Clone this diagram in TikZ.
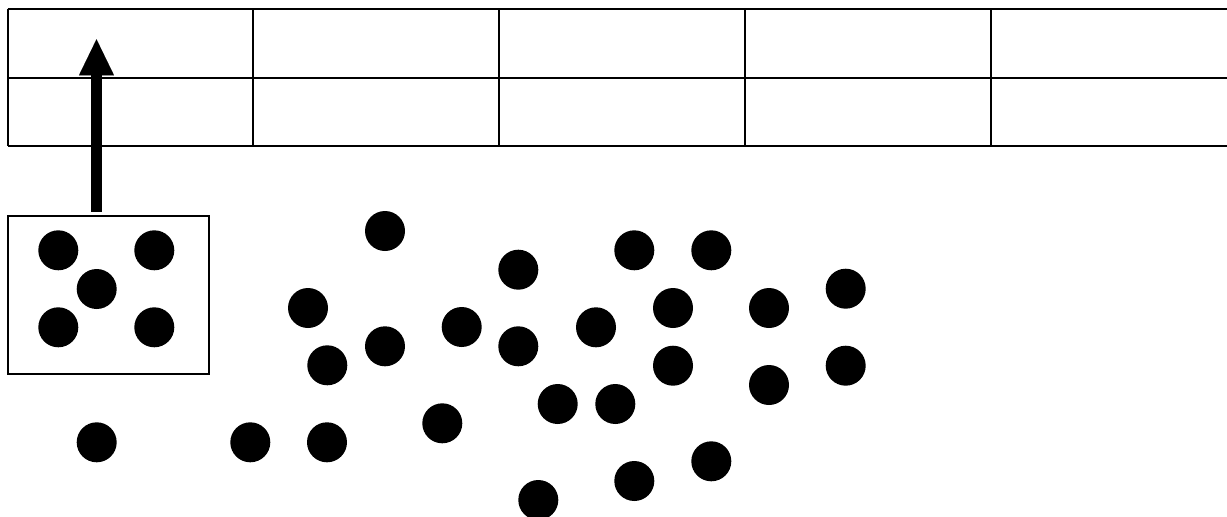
\documentclass[tikz,border=0pt]{standalone}
\usetikzlibrary{arrows.meta}

\tikzset{
  dot/.style={circle, fill=black, inner sep=0pt, minimum size=40pt},
  grp/.style={draw, line width=2pt, outer sep=0pt, minimum width=201.5pt, minimum height=158pt},
  bigarrow/.style={line width=11.5pt, -{Triangle[width=35pt, length=36pt, line width=0.01pt]}}
}

\begin{document}
\begin{tikzpicture}[x=1pt, y=-1pt]
                \useasboundingbox (0,0) rectangle (1227,517);

                % table with two rows
                \draw[line width=2pt] (7.5,8.5) -- (1228,8.5);
                \draw[line width=2pt] (7.5,77.5) -- (1228,77.5);
                \draw[line width=2pt] (7.5,146) -- (1228,146);
                \foreach \x in {7.5, 252.7, 499, 745, 990.7}
                    \draw[line width=2pt] (\x,8.5) -- (\x,146);

                % the group of five in a box
                \node[grp] (group) at (108.25,294.6) {};
                \node[dot] (g1) at (58.3,250.3) {};
                \node[dot] (g2) at (154.3,250.3) {};
                \node[dot] (g3) at (96.7,289) {};
                \node[dot] (g4) at (58.3,327.3) {};
                \node[dot] (g5) at (154.3,327.3) {};

                % arrow up into the table
                \coordinate (tip) at (96.5,39.3);
                \draw[bigarrow] ([yshift=3.8pt]group.north -| tip) -- (tip);

                % loose dots
                \foreach \px/\py [count=\i] in {385/231, 518.3/269.7, 634.3/250.3, 711.3/250.3,
                        308/308, 385/346.3, 461.7/327, 518.3/346.3, 596/327.3,
                        673/308, 769/308, 845.7/288.7, 327.3/365.3, 673/365.7,
                        845.7/365.7, 769/385, 557.7/404, 615.3/404, 442.3/423.3,
                        96.7/442.3, 250.3/442.3, 327/442.3, 634.3/481, 711.3/461.3,
                        538.3/500}
                    \node[dot] (d\i) at (\px,\py) {};
            \end{tikzpicture}
\end{document}
